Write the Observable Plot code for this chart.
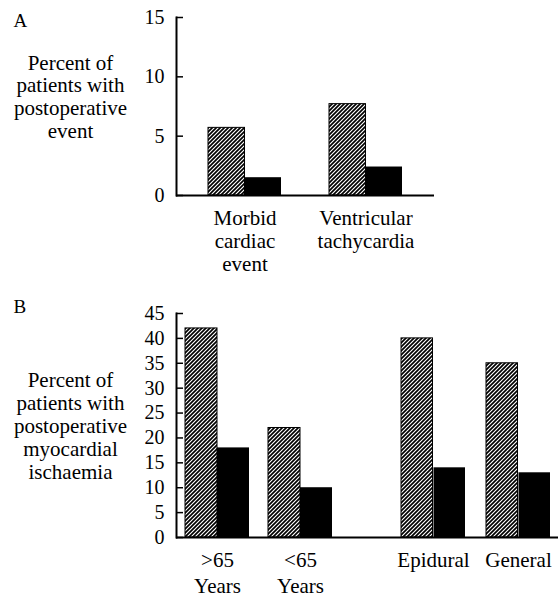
<!DOCTYPE html>
<html><head><meta charset="utf-8">
<script src="https://cdn.jsdelivr.net/npm/d3@7"></script>
<script src="https://cdn.jsdelivr.net/npm/@observablehq/plot@0.6"></script>
<style>
body{margin:0;background:#fff;}
#chart{position:relative;width:558px;height:598px;}
#chart svg{position:absolute;overflow:visible;}
#chart svg text{font-family:"Liberation Serif","DejaVu Serif",serif !important;}
</style></head><body><div id="chart"></div>
<script>
// Panel A data
const eventCategories = ["Morbid\ncardiac\nevent", "Ventricular\ntachycardia"];
const eventHatched = [5.7, 7.7];
const eventSolid = [1.5, 2.4];
const eventTicks = [0, 5, 10, 15];
const titleA = "Percent of\npatients with\npostoperative\nevent";

// Panel B data
const ageCategories = [">65\nYears", "<65\nYears"];
const ageHatched = [42, 22];
const ageSolid = [18, 10];
const anaesCategories = ["Epidural", "General"];
const anaesHatched = [40, 35];
const anaesSolid = [14, 13];
const ischTicks = [0, 5, 10, 15, 20, 25, 30, 35, 40, 45];
const titleB = "Percent of\npatients with\npostoperative\nmyocardial\nischaemia";

const FONT = "Liberation Serif";

function rows(cats, h, s) {
  return cats.map((c, i) => ({cat: c, hatched: h[i], solid: s[i]}));
}
function bandwidth(range, n, pi) {
  const step = (range[1] - range[0]) / (n - pi);
  return step * (1 - pi);
}
function hatchDefs(id) {
  return () => {
    const defs = d3.create("svg:defs");
    const p = defs.append("pattern").attr("id", id)
      .attr("patternUnits", "userSpaceOnUse").attr("width", 4).attr("height", 4);
    p.append("rect").attr("width", 4).attr("height", 4).attr("fill", "#fff");
    p.append("path").attr("d", "M-1,1L1,-1M0,4L4,0M3,5L5,3")
      .attr("stroke", "#000").attr("stroke-width", 1.7);
    return defs.node();
  };
}
function bars(data, id, bw) {
  return [
    Plot.barY(data, {x: "cat", y: "hatched", fill: `url(#${id})`, stroke: "#000", strokeWidth: 1, insetRight: bw / 2}),
    Plot.barY(data, {x: "cat", y: "solid", fill: "#000", insetLeft: bw / 2})
  ];
}
function place(svg, left, top) {
  svg.style.left = left + "px";
  svg.style.top = top + "px";
  svg.style.maxWidth = "none";
  document.getElementById("chart").appendChild(svg);
}

// ---- Panel A ----
const rangeA = [208, 402], piA = 0.397;
const bwA = bandwidth(rangeA, eventCategories.length, piA);
const dataA = rows(eventCategories, eventHatched, eventSolid);
const plotA = Plot.plot({
  width: 558, height: 280,
  marginLeft: 176, marginRight: 124, marginTop: 17, marginBottom: 85,
  x: {type: "band", domain: eventCategories, range: rangeA, paddingInner: piA, paddingOuter: 0, axis: null},
  y: {domain: [0, 15], axis: null},
  style: {fontFamily: FONT, fontSize: "21px", color: "#000", background: "transparent"},
  marks: [
    hatchDefs("hatchA"),
    ...bars(dataA, "hatchA", bwA),
    Plot.frame({anchor: "left", strokeWidth: 2}),
    Plot.ruleY([0], {strokeWidth: 2}),
    Plot.axisY(eventTicks, {tickSize: -7, tickPadding: 19, fontSize: 20, fontFamily: FONT, strokeWidth: 1.5}),
    Plot.text(eventCategories, {x: d => d, text: d => d, frameAnchor: "bottom", lineAnchor: "top", dy: 13, lineHeight: 1.1, fontSize: 21, fontFamily: FONT}),
    Plot.text([titleA], {frameAnchor: "left", dx: -106, dy: -10, lineHeight: 1.08, textAnchor: "middle", fontSize: 21, fontFamily: FONT}),
    Plot.text(["A"], {frameAnchor: "top-left", dx: -163, dy: 3, textAnchor: "start", lineAnchor: "middle", fontSize: 19, fontFamily: FONT})
  ]
});
place(plotA, 0, 0);

// ---- Panel B (left: age) ----
const rangeB1 = [185, 332], piB1 = 0.229;
const bwB1 = bandwidth(rangeB1, ageCategories.length, piB1);
const dataB1 = rows(ageCategories, ageHatched, ageSolid);
const plotB1 = Plot.plot({
  width: 366, height: 308,
  marginLeft: 176, marginRight: 0, marginTop: 23, marginBottom: 61,
  x: {type: "band", domain: ageCategories, range: rangeB1, paddingInner: piB1, paddingOuter: 0, axis: null},
  y: {domain: [0, 45], axis: null},
  style: {fontFamily: FONT, fontSize: "21px", color: "#000", background: "transparent"},
  marks: [
    hatchDefs("hatchB1"),
    ...bars(dataB1, "hatchB1", bwB1),
    Plot.frame({anchor: "left", strokeWidth: 2}),
    Plot.ruleY([0], {strokeWidth: 2}),
    Plot.axisY(ischTicks, {tickSize: -7, tickPadding: 19, fontSize: 20, fontFamily: FONT, strokeWidth: 1.5}),
    Plot.text(ageCategories, {x: d => d, text: d => d, frameAnchor: "bottom", lineAnchor: "top", dy: 11, lineHeight: 1.25, fontSize: 21, fontFamily: FONT}),
    Plot.text([titleB], {frameAnchor: "left", dx: -106, dy: 0, lineHeight: 1.1, textAnchor: "middle", fontSize: 21, fontFamily: FONT}),
    Plot.text(["B"], {frameAnchor: "top-left", dx: -163, dy: -7, textAnchor: "start", lineAnchor: "middle", fontSize: 19, fontFamily: FONT})
  ]
});
place(plotB1, 0, 290);

// ---- Panel B (right: anaesthesia) ----
const rangeB2 = [34, 185], piB2 = 0.244;
const bwB2 = bandwidth(rangeB2, anaesCategories.length, piB2);
const dataB2 = rows(anaesCategories, anaesHatched, anaesSolid);
const plotB2 = Plot.plot({
  width: 192, height: 308,
  marginLeft: 0, marginRight: 0, marginTop: 23, marginBottom: 61,
  x: {type: "band", domain: anaesCategories, range: rangeB2, paddingInner: piB2, paddingOuter: 0, axis: null},
  y: {domain: [0, 45], axis: null},
  style: {fontFamily: FONT, fontSize: "21px", color: "#000", background: "transparent"},
  marks: [
    hatchDefs("hatchB2"),
    ...bars(dataB2, "hatchB2", bwB2),
    Plot.ruleY([0], {strokeWidth: 2}),
    Plot.text(anaesCategories, {x: d => d, text: d => d, frameAnchor: "bottom", lineAnchor: "top", dy: 11, lineHeight: 1.25, fontSize: 21, fontFamily: FONT})
  ]
});
place(plotB2, 366, 290);
</script></body></html>
